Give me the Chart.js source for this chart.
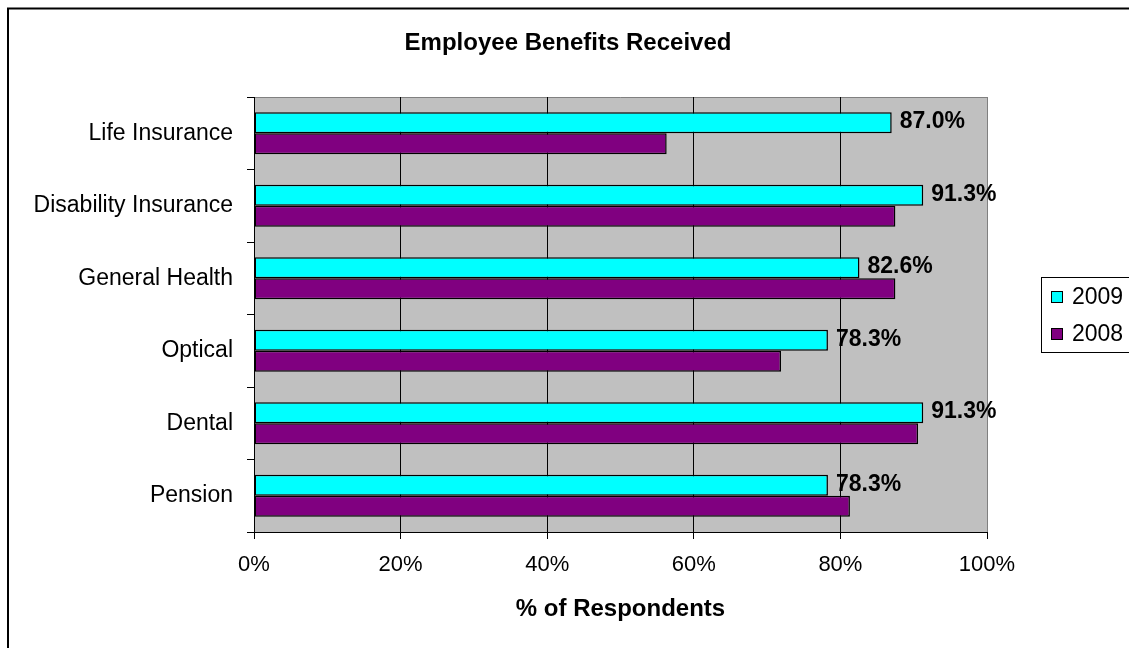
<!DOCTYPE html>
<html>
<head>
<meta charset="utf-8">
<title>Employee Benefits Received</title>
<script src="https://cdn.jsdelivr.net/npm/chart.js@4.4.1/dist/chart.umd.min.js"></script>
<style>
  html, body { margin: 0; padding: 0; background: #fff; overflow: hidden; }
  canvas { display: block; }
</style>
</head>
<body>
<canvas id="benefitsChart" width="1136" height="648"></canvas>
<script>
const categories = ['Life Insurance', 'Disability Insurance', 'General Health', 'Optical', 'Dental', 'Pension'];
const seriesLabels = ['2009', '2008'];
const values2009 = [87.0, 91.3, 82.6, 78.3, 91.3, 78.3];
const values2008 = [56.3, 87.5, 87.5, 71.9, 90.6, 81.3];
const seriesColors = ['#00FFFF', '#800080'];
const xTicks = [0, 20, 40, 60, 80, 100];

const FONT = '"Liberation Sans", Arial, sans-serif';
Chart.defaults.color = '#000';
Chart.defaults.font.family = FONT;

// white page, outer frame and the grey plot area
const backdrop = {
    id: 'backdrop',
    beforeDraw(chart) {
        const { ctx, chartArea: a } = chart;
        ctx.save();
        ctx.fillStyle = '#fff';
        ctx.fillRect(0, 0, chart.width, chart.height);
        ctx.strokeStyle = '#000';
        ctx.lineWidth = 2;
        ctx.strokeRect(8, 8.5, chart.width + 20, chart.height + 20);
        ctx.fillStyle = '#C0C0C0';
        ctx.fillRect(a.left, a.top, a.right - a.left, a.bottom - a.top);
        ctx.strokeStyle = '#808080';
        ctx.lineWidth = 1;
        ctx.beginPath();
        ctx.moveTo(a.left, a.top + 0.5);
        ctx.lineTo(a.right, a.top + 0.5);
        ctx.stroke();
        ctx.restore();
    }
};

// percentage labels on the 2009 bars
const valueLabels = {
    id: 'valueLabels',
    afterDatasetsDraw(chart) {
        const { ctx } = chart;
        const meta = chart.getDatasetMeta(0);
        ctx.save();
        ctx.font = 'bold 23px ' + FONT;
        ctx.fillStyle = '#000';
        ctx.textAlign = 'left';
        ctx.textBaseline = 'middle';
        meta.data.forEach((bar, i) => {
            ctx.fillText(values2009[i].toFixed(1) + '%', bar.x + 8, bar.y - 1);
        });
        ctx.restore();
    }
};

// boxed legend to the right of the plot
const boxLegend = {
    id: 'boxLegend',
    afterDraw(chart) {
        const { ctx, chartArea: a } = chart;
        const left = a.right + 54;
        const top = Math.round((a.top + a.bottom) / 2 - 37.5);
        ctx.save();
        ctx.fillStyle = '#fff';
        ctx.fillRect(left, top, 120, 75);
        ctx.strokeStyle = '#000';
        ctx.lineWidth = 1;
        ctx.strokeRect(left + 0.5, top + 0.5, 120, 75);
        ctx.font = '23px ' + FONT;
        ctx.textBaseline = 'middle';
        chart.data.datasets.forEach((ds, i) => {
            const cy = top + 20 + i * 37;
            ctx.fillStyle = ds.backgroundColor;
            ctx.fillRect(left + 10, cy - 6, 12, 12);
            ctx.strokeRect(left + 10.5, cy - 5.5, 11, 11);
            ctx.fillStyle = '#000';
            ctx.fillText(ds.label, left + 31, cy + 1);
        });
        ctx.restore();
    }
};

new Chart(document.getElementById('benefitsChart'), {
    type: 'bar',
    data: {
        labels: categories,
        datasets: [
            {
                label: seriesLabels[0],
                data: values2009,
                backgroundColor: seriesColors[0],
                borderColor: '#000',
                borderWidth: 1.5,
                borderSkipped: false
            },
            {
                label: seriesLabels[1],
                data: values2008,
                backgroundColor: seriesColors[1],
                borderColor: '#000',
                borderWidth: 1.5,
                borderSkipped: false
            }
        ]
    },
    options: {
        indexAxis: 'y',
        responsive: false,
        animation: false,
        devicePixelRatio: 1,
        categoryPercentage: 0.58,
        barPercentage: 1,
        layout: { padding: 0 },
        plugins: {
            legend: { display: false },
            tooltip: { enabled: false },
            title: {
                display: true,
                text: 'Employee Benefits Received',
                color: '#000',
                font: { family: FONT, size: 24, weight: 'bold' },
                padding: { top: 28.6, bottom: 39.6 }
            }
        },
        scales: {
            x: {
                type: 'linear',
                position: 'bottom',
                min: 0,
                max: 100,
                afterBuildTicks(scale) {
                    scale.ticks = xTicks.map(v => ({ value: v }));
                },
                afterFit(scale) { scale.height = 116; },
                ticks: {
                    callback: v => v + '%',
                    font: { size: 22 },
                    color: '#000',
                    padding: 13,
                    maxRotation: 0,
                    autoSkip: false
                },
                grid: {
                    color: c => (c.tick && c.tick.value === 100) ? '#808080' : '#000',
                    tickColor: '#000',
                    tickLength: 7,
                    lineWidth: 1
                },
                border: { display: true, color: '#000', width: 1 },
                title: {
                    display: true,
                    text: '% of Respondents',
                    color: '#000',
                    font: { size: 24, weight: 'bold' },
                    padding: { top: 0, bottom: 24.6 }
                }
            },
            y: {
                type: 'category',
                position: 'left',
                afterFit(scale) { scale.width = 254; },
                ticks: {
                    font: { size: 23 },
                    color: '#000',
                    padding: 14
                },
                grid: {
                    offset: true,
                    drawOnChartArea: false,
                    tickLength: 7,
                    color: '#000'
                },
                border: { display: true, color: '#000', width: 1 }
            },
            spacer: {
                type: 'linear',
                axis: 'y',
                position: 'right',
                min: 0,
                max: 1,
                afterFit(scale) { scale.width = 149; },
                ticks: { display: false },
                grid: { display: false },
                border: { display: false }
            }
        }
    },
    plugins: [backdrop, valueLabels, boxLegend]
});
</script>
</body>
</html>
